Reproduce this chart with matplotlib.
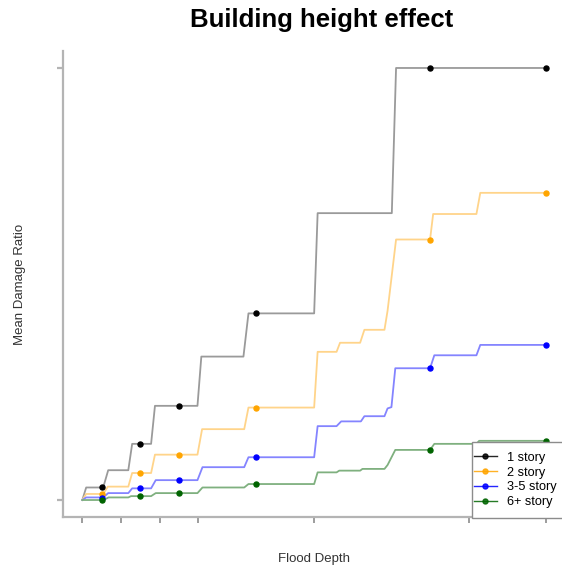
import matplotlib
matplotlib.use('Agg')
from matplotlib import pyplot as plt
from matplotlib.lines import Line2D
from matplotlib.patches import Rectangle

plt.rcParams['font.family'] = ['Liberation Sans', 'DejaVu Sans']

# step curves of mean damage ratio vs flood depth, one per building height
one_depth = [0, 0.10, 0.54, 0.67, 1.19, 1.29, 1.78, 1.88, 2.98, 3.08, 4.17, 4.30, 6.00, 6.09, 8.01, 8.12, 12]
one_ratio = [0, 0.029, 0.029, 0.069, 0.069, 0.130, 0.130, 0.218, 0.218, 0.332, 0.332, 0.432, 0.432, 0.664, 0.664, 1.0, 1.0]

two_depth = [0, 0.10, 0.54, 0.66, 1.19, 1.29, 1.78, 1.88, 2.98, 3.10, 4.19, 4.30, 6.00, 6.09, 6.58, 6.67,
             7.19, 7.30, 7.82, 7.90, 8.12, 9.00, 9.08, 10.20, 10.30, 12]
two_ratio = [0, 0.014, 0.014, 0.031, 0.031, 0.0625, 0.0625, 0.105, 0.105, 0.164, 0.164, 0.214, 0.214, 0.343, 0.343, 0.364,
             0.364, 0.394, 0.394, 0.438, 0.603, 0.603, 0.662, 0.662, 0.711, 0.711]

mid_depth = [0, 0.10, 0.54, 0.67, 1.19, 1.29, 1.78, 1.90, 2.98, 3.11, 4.19, 4.30, 6.00, 6.09, 6.58, 6.70,
             7.21, 7.30, 7.82, 7.90, 8.00, 8.10, 9.00, 9.11, 10.20, 10.30, 12]
mid_ratio = [0, 0.006, 0.006, 0.016, 0.016, 0.027, 0.027, 0.046, 0.046, 0.076, 0.076, 0.099, 0.099, 0.171, 0.171, 0.182,
             0.182, 0.194, 0.194, 0.212, 0.215, 0.305, 0.305, 0.335, 0.335, 0.359, 0.359]

six_depth = [0, 0.55, 0.68, 1.19, 1.26, 1.78, 1.90, 2.98, 3.11, 4.19, 4.30, 6.00, 6.09, 6.58, 6.65,
             7.19, 7.25, 7.82, 7.90, 8.10, 9.00, 9.11, 10.20, 10.27, 12]
six_ratio = [0, 0, 0.006, 0.006, 0.009, 0.009, 0.016, 0.016, 0.029, 0.029, 0.037, 0.037, 0.064, 0.064, 0.068,
             0.068, 0.072, 0.072, 0.081, 0.116, 0.116, 0.130, 0.130, 0.137, 0.137]

# sampled points on each curve
pt_depth = [0.5, 1.5, 2.5, 4.5, 9, 12]
one_pts = [0.029, 0.130, 0.218, 0.432, 1.0, 1.0]
two_pts = [0.014, 0.0625, 0.105, 0.214, 0.603, 0.711]
mid_pts = [0.005, 0.027, 0.046, 0.099, 0.305, 0.359]
six_pts = [0.0, 0.009, 0.017, 0.037, 0.116, 0.137]

labels = ['1 story', '2 story', '3-5 story', '6+ story']
colors = ['black', 'orange', 'blue', 'darkgreen']
line_colors = ['#9a9a9a', '#ffd48a', '#8484ff', '#7fb07f']

x_ticks = [0, 1, 2, 3, 6, 10, 12]
y_ticks = [0, 1]

W, H = 562, 570
fig = plt.figure(figsize=(W / 100, H / 100), dpi=100)
ax = fig.add_axes([63 / W, (H - 517.3) / H, 502.3 / W, 466.6 / H])

curves = [(one_depth, one_ratio, one_pts), (two_depth, two_ratio, two_pts),
          (mid_depth, mid_ratio, mid_pts), (six_depth, six_ratio, six_pts)]
for (d, r, p), c, lc in zip(curves, colors, line_colors):
    ax.plot(d, r, color=lc, lw=1.3, zorder=2)
    ax.plot(pt_depth, p, 'o', color=c, ms=3.6, zorder=3)

ax.set_xlim(-0.5, 12.5)
ax.set_ylim(-0.04, 1.04)
ax.set_xticks(x_ticks); ax.set_xticklabels([])
ax.set_yticks(y_ticks); ax.set_yticklabels([])
for s in ['top', 'right']:
    ax.spines[s].set_visible(False)
for s in ['left', 'bottom']:
    ax.spines[s].set_color('#b4b4b4'); ax.spines[s].set_linewidth(1.6)
ax.tick_params(axis='x', length=4, width=1.2, color='#8c8c8c')
ax.tick_params(axis='y', length=4.5, width=1.6, color='#b4b4b4')

# legend box: white panel with a thin frame, entries placed inside it
fig.patches.append(Rectangle((472 / W, (H - 518) / H), 95 / W, 76 / H, transform=fig.transFigure,
                             facecolor='white', edgecolor='#8c8c8c', lw=1.0, zorder=4))
handles = [Line2D([], [], color=c, marker='o', ms=3.6, lw=1.0, alpha=0.85) for c in colors]
leg = fig.legend(handles, labels, loc='center left', bbox_to_anchor=(472 / W, (H - 480) / H),
                 frameon=False, fontsize=9.2, handlelength=1.8, handletextpad=0.8,
                 labelspacing=0.22, borderpad=0.15, borderaxespad=0)
leg.set_zorder(5)

fig.text(322 / W, 1 - 20 / H, 'Building height effect', ha='center', va='center',
         fontsize=18.5, fontweight='bold')
fig.text(314 / W, 1 - 559 / H, 'Flood Depth', ha='center', va='center', fontsize=9.5, color='#333333')
fig.text(20 / W, 1 - 284 / H, 'Mean Damage Ratio', ha='center', va='center', rotation=90,
         fontsize=9.5, color='#333333')

fig.savefig('out.png', dpi=100)
